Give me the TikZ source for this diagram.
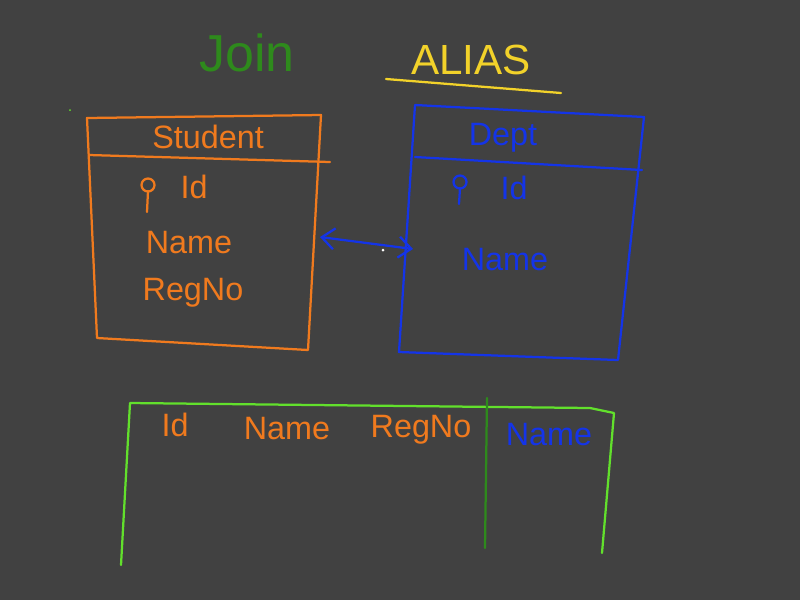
\documentclass[tikz,border=0pt]{standalone}
\usepackage{fontspec}
\setmainfont{Liberation Sans}
\usetikzlibrary{arrows.meta}
\definecolor{board}{HTML}{414141}
\definecolor{penorange}{HTML}{F07A1E}
\definecolor{penblue}{HTML}{1434E8}
\definecolor{pengreen}{HTML}{2E8A1C}
\definecolor{penlime}{HTML}{62E02C}
\definecolor{penyellow}{HTML}{F2D22A}

\begin{document}
\begin{tikzpicture}[x=0.025cm, y=-0.025cm, line width=1.6pt, line join=round, line cap=round,
    hand/.style={font=\fontsize{23}{27}\selectfont, inner sep=0pt},
    >={Straight Barb[length=9pt, width=15pt]}]
    \def\kr{6.5}
    \fill[board] (0, 0) rectangle (800, 600);
    \useasboundingbox (0, 0) rectangle (800, 600);

    % Student
    \coordinate (s1) at (87, 118);  \coordinate (s2) at (321, 115);
    \coordinate (s3) at (308, 350); \coordinate (s4) at (97, 338);
    \coordinate (sh1) at (89, 155); \coordinate (sh2) at (330, 162);
    \coordinate (sa) at (320, 237);
    % Dept
    \coordinate (d1) at (415, 105); \coordinate (d2) at (644, 117);
    \coordinate (d3) at (618, 360); \coordinate (d4) at (399, 352);
    \coordinate (dh1) at (415, 157); \coordinate (dh2) at (642, 170);
    \coordinate (da) at (413, 249);
    % result table
    \coordinate (t1) at (121, 565); \coordinate (t2) at (130, 403);
    \coordinate (t3) at (590, 408); \coordinate (t4) at (614, 413);
    \coordinate (t5) at (602, 553);
    \coordinate (m1) at (487, 398); \coordinate (m2) at (485, 548);

    \node[pengreen, font=\fontsize{37}{40}\selectfont, inner sep=0pt] (join) at (247, 53) {Join};
    \node[penyellow, font=\fontsize{30}{34}\selectfont, inner sep=0pt] (alias) at (471, 60) {ALIAS};
    \draw[penyellow] (386, 79) -- (561, 93);

    \draw[penorange] (s1) -- (s2) -- (s3) -- (s4) -- cycle;
    \draw[penorange] (sh1) -- (sh2);
    \node[hand, penorange] (sname) at (208, 137) {Student};
    \draw[penorange] (148, 185) circle (\kr);
    \draw[penorange] (148, 191) -- (147, 212);
    \node[hand, penorange] (sid) at (194, 187) {Id};
    \node[hand, penorange] (sfield) at (189, 243) {Name};
    \node[hand, penorange] (sreg) at (193, 293) {RegNo};

    \draw[penblue] (d1) -- (d2) -- (d3) -- (d4) -- cycle;
    \draw[penblue] (dh1) -- (dh2);
    \node[hand, penblue] (dname) at (503, 138) {Dept};
    \draw[penblue] (460, 182) circle (\kr);
    \draw[penblue] (460, 188) -- (459, 204);
    \node[hand, penblue] (did) at (514, 188) {Id};
    \node[hand, penblue] (dfield) at (505, 260) {Name};

    \draw[<->, penblue] (sa) -- (da);
    \fill[white] (383, 250) circle (1.5);
    \fill[penlime] (70, 110) circle (1);

    \draw[penlime] (t1) -- (t2) -- (t3) -- (t4) -- (t5);
    \draw[pengreen] (m1) -- (m2);
    \node[hand, penorange] (rid) at (175, 425) {Id};
    \node[hand, penorange] (rname) at (287, 429) {Name};
    \node[hand, penorange] (rreg) at (421, 430) {RegNo};
    \node[hand, penblue] (rdname) at (549, 435) {Name};
\end{tikzpicture}
\end{document}
